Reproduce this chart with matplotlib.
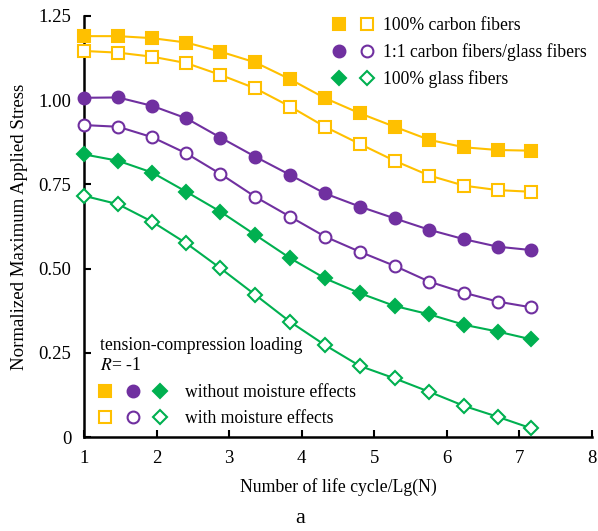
import numpy as np
import matplotlib.pyplot as plt
from matplotlib.lines import Line2D
from matplotlib.legend_handler import HandlerTuple

plt.rcParams['font.family'] = ['Liberation Serif', 'DejaVu Serif']
plt.rcParams['mathtext.fontset'] = 'stix'

# life cycle positions, Lg(N)
lg_n = [1.00, 1.47, 1.94, 2.41, 2.88, 3.36, 3.84, 4.32, 4.80, 5.28, 5.76, 6.24, 6.70, 7.16]

# normalized maximum applied stress
carbon_dry = [1.190, 1.190, 1.184, 1.171, 1.144, 1.112, 1.062, 1.006, 0.961, 0.921, 0.882, 0.860, 0.852, 0.850]
carbon_wet = [1.146, 1.141, 1.129, 1.110, 1.075, 1.035, 0.981, 0.921, 0.870, 0.820, 0.776, 0.746, 0.733, 0.728]
hybrid_dry = [1.007, 1.008, 0.983, 0.946, 0.889, 0.832, 0.778, 0.723, 0.684, 0.649, 0.615, 0.587, 0.565, 0.555]
hybrid_wet = [0.926, 0.921, 0.890, 0.842, 0.781, 0.713, 0.654, 0.595, 0.550, 0.508, 0.461, 0.428, 0.402, 0.385]
glass_dry = [0.839, 0.820, 0.785, 0.728, 0.669, 0.600, 0.531, 0.471, 0.427, 0.389, 0.364, 0.333, 0.313, 0.290]
glass_wet = [0.716, 0.691, 0.639, 0.575, 0.501, 0.422, 0.342, 0.273, 0.211, 0.174, 0.134, 0.092, 0.060, 0.026]

yellow = '#FFC000'
purple = '#7030A0'
green = '#00B050'

fig = plt.figure(figsize=(5.98, 5.31), dpi=100)
ax = fig.add_axes([0.1405, 0.177, 0.8495, 0.793])

series = [
    (carbon_dry, yellow, 's', True),
    (carbon_wet, yellow, 's', False),
    (hybrid_dry, purple, 'o', True),
    (hybrid_wet, purple, 'o', False),
    (glass_dry, green, 'D', True),
    (glass_wet, green, 'D', False),
]
for y, c, m, filled in series:
    ms = 8.5 if m != 'D' else 7.5
    ax.plot(lg_n, y, color=c, lw=1.5, marker=m, ms=ms, mew=1.5,
            mfc=c if filled else 'white', mec=c, clip_on=False, zorder=3)

ax.set_xlim(1, 8)
ax.set_ylim(0, 1.25)
ax.set_xticks(np.arange(1, 9, 1))
ax.set_yticks([0, 0.25, 0.5, 0.75, 1.0, 1.25])
ax.set_yticklabels(['0', '0.25', '0.50', '0.75', '1.00', '1.25'])
ax.tick_params(direction='in', length=5, width=1.5, labelsize=13.5, pad=9)
for s in ['top', 'right']:
    ax.spines[s].set_visible(False)
for s in ['left', 'bottom']:
    ax.spines[s].set_linewidth(1.8)

ax.set_xlabel('Number of life cycle/Lg(N)', fontsize=12.8, labelpad=8)
ax.set_ylabel('Normalized Maximum Applied Stress', fontsize=13.6, labelpad=8)


def mk(c, m, filled):
    ms = 8.5 if m != 'D' else 7.5
    return Line2D([], [], ls='none', marker=m, ms=ms, mew=1.5, color=c,
                  mfc=c if filled else 'white', mec=c)


h1 = [(mk(yellow, 's', True), mk(yellow, 's', False)),
      (mk(purple, 'o', True), mk(purple, 'o', False)),
      (mk(green, 'D', True), mk(green, 'D', False))]
leg1 = ax.legend(h1, ['100% carbon fibers', '1:1 carbon fibers/glass fibers', '100% glass fibers'],
                 handler_map={tuple: HandlerTuple(ndivide=None, pad=0.9)},
                 loc='upper right', bbox_to_anchor=(1.021, 1.035), frameon=False,
                 fontsize=12.7, handlelength=2.3, handletextpad=0.55, labelspacing=0.52)
ax.add_artist(leg1)

h2 = [(mk(yellow, 's', True), mk(purple, 'o', True), mk(green, 'D', True)),
      (mk(yellow, 's', False), mk(purple, 'o', False), mk(green, 'D', False))]
leg2 = ax.legend(h2, ['without moisture effects', 'with moisture effects'],
                 handler_map={tuple: HandlerTuple(ndivide=None, pad=1.0)},
                 loc='lower left', bbox_to_anchor=(0.0, -0.015), frameon=False,
                 fontsize=12.7, title='tension-compression loading\n$\\mathit{R}$= -1',
                 title_fontsize=12.7, alignment='left',
                 handlelength=3.7, handletextpad=1.1, labelspacing=0.55)

fig.text(0.502, 0.015, 'a', fontsize=16, ha='center')

fig.savefig('out.png', dpi=100)
